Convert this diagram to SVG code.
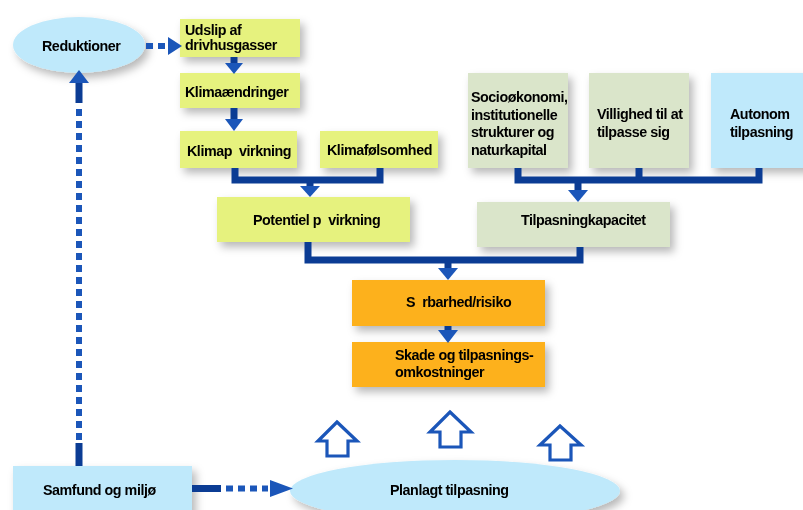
<svg xmlns="http://www.w3.org/2000/svg" width="803" height="510" viewBox="0 0 803 510">
<defs>
<filter id="sh" x="-20%" y="-30%" width="150%" height="170%">
<feDropShadow dx="4" dy="5" stdDeviation="4" flood-color="#000" flood-opacity="0.28"/>
</filter>
<style>
text{font-family:"Liberation Sans",Arial,Helvetica,sans-serif;font-size:14.3px;font-weight:bold;letter-spacing:-0.45px;fill:#000;white-space:pre}
.y{fill:#e6f27e}
.g{fill:#dae5ca}
.b{fill:#bfe9fb}
.o{fill:#fdb11c}
.ln{stroke:#0b3c94;stroke-width:7;fill:none}
.dl{stroke:#1b56b9;stroke-width:6;fill:none;stroke-dasharray:7 5}
.hd{fill:#1b56b9}
.ho{fill:#fff;stroke:#1b56b9;stroke-width:3.2;stroke-linejoin:miter}
</style>
</defs>

<g id="reduktioner" filter="url(#sh)">
<ellipse cx="79" cy="45" rx="66" ry="28" class="b"/>
<text x="42" y="51">Reduktioner</text>
</g>
<g id="udslip" filter="url(#sh)">
<rect x="180" y="19" width="120" height="38" class="y"/>
<text x="185" y="35">Udslip af</text>
<text x="185" y="50">drivhusgasser</text>
</g>
<g id="klimaaendringer" filter="url(#sh)">
<rect x="180" y="73" width="120" height="35" class="y"/>
<text x="185" y="97">Klimaændringer</text>
</g>
<g id="klimapavirkning" filter="url(#sh)">
<rect x="180" y="131" width="117" height="37" class="y"/>
<text x="187" y="156">Klimap  virkning</text>
</g>
<g id="klimafolsomhed" filter="url(#sh)">
<rect x="320" y="131" width="118" height="37" class="y"/>
<text x="327" y="155">Klimafølsomhed</text>
</g>
<g id="potentiel" filter="url(#sh)">
<rect x="217" y="197" width="193" height="45" class="y"/>
<text x="253" y="225">Potentiel p  virkning</text>
</g>
<g id="socio" filter="url(#sh)">
<rect x="468" y="73" width="100" height="95" class="g"/>
<text x="471" y="102">Socioøkonomi,</text>
<text x="471" y="120">institutionelle</text>
<text x="471" y="137">strukturer og</text>
<text x="471" y="155">naturkapital</text>
</g>
<g id="villighed" filter="url(#sh)">
<rect x="589" y="73" width="100" height="95" class="g"/>
<text x="597" y="119">Villighed til at</text>
<text x="597" y="137">tilpasse sig</text>
</g>
<g id="autonom" filter="url(#sh)">
<rect x="711" y="73" width="100" height="95" class="b"/>
<text x="730" y="119">Autonom</text>
<text x="730" y="137">tilpasning</text>
</g>
<g id="tilpasningkapacitet" filter="url(#sh)">
<rect x="477" y="202" width="193" height="45" class="g"/>
<text x="521" y="225">Tilpasningkapacitet</text>
</g>
<g id="sarbarhed" filter="url(#sh)">
<rect x="352" y="280" width="193" height="46" class="o"/>
<text x="406" y="307">S  rbarhed/risiko</text>
</g>
<g id="skade" filter="url(#sh)">
<rect x="352" y="342" width="193" height="45" class="o"/>
<text x="395" y="360">Skade og tilpasnings-</text>
<text x="395" y="377">omkostninger</text>
</g>
<g id="samfund" filter="url(#sh)">
<rect x="13" y="466" width="179" height="50" class="b"/>
<text x="43" y="495">Samfund og miljø</text>
</g>
<g id="planlagt" filter="url(#sh)">
<ellipse cx="455" cy="491" rx="165" ry="31" class="b"/>
<text x="390" y="495">Planlagt tilpasning</text>
</g>

<g id="connectors">
<line x1="146" y1="46" x2="168" y2="46" class="dl" stroke-dasharray="8 4"/>
<polygon points="168,37 182,46 168,55" class="hd"/>
<line x1="234" y1="57" x2="234" y2="64" class="ln" stroke-width="8"/>
<polygon points="225,63 243,63 234,74" class="hd"/>
<line x1="234" y1="108" x2="234" y2="120" class="ln" stroke-width="8"/>
<polygon points="225,119 243,119 234,131" class="hd"/>
<polyline points="235,168 235,180 380,180 380,168" class="ln"/>
<line x1="310" y1="180" x2="310" y2="188" class="ln"/>
<polygon points="300,186 320,186 310,197" class="hd"/>
<polyline points="518,168 518,180 759,180 759,168" class="ln"/>
<line x1="639" y1="168" x2="639" y2="180" class="ln"/>
<line x1="578" y1="180" x2="578" y2="192" class="ln"/>
<polygon points="568,190 588,190 578,202" class="hd"/>
<polyline points="308,242 308,260 580,260 580,247" class="ln"/>
<line x1="448" y1="260" x2="448" y2="270" class="ln"/>
<polygon points="438,268 458,268 448,280" class="hd"/>
<line x1="448" y1="326" x2="448" y2="332" class="ln"/>
<polygon points="438,330 458,330 448,343" class="hd"/>
<line x1="79" y1="466" x2="79" y2="443" class="ln" stroke="#0f47a8"/>
<line x1="79" y1="440" x2="79" y2="104" class="dl" stroke-width="5"/>
<line x1="79" y1="103" x2="79" y2="82" class="ln" stroke="#1b56b9" stroke-width="8"/>
<polygon points="69,83 89,83 79,70" class="hd"/>
<line x1="192" y1="488.5" x2="221" y2="488.5" class="ln" stroke="#0f47a8"/>
<line x1="226" y1="488.5" x2="268" y2="488.5" class="dl" stroke-width="7" stroke-dasharray="12 5 8 5 8 5"/>
<polygon points="270,480 293,488.5 270,497" class="hd"/>
<polygon points="337,422 357,441 348,441 348,456 327,456 327,441 318,441" class="ho"/>
<polygon points="450,412 471,432 461,432 461,447 440,447 440,432 430,432" class="ho"/>
<polygon points="560,426 581,445 571,445 571,460 550,460 550,445 540,445" class="ho"/>
</g>
</svg>
